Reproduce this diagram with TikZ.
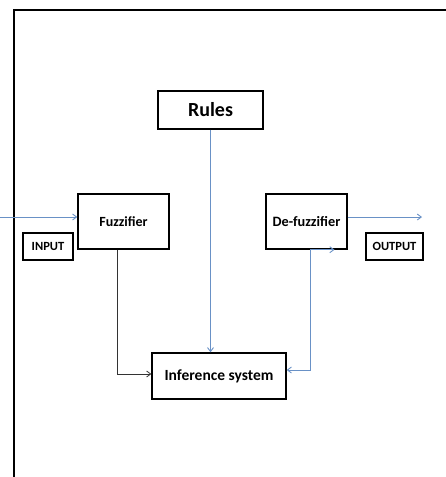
\documentclass[tikz,border=0pt]{standalone}
\usepackage{fontspec}
\setmainfont{Carlito}
\usetikzlibrary{arrows.meta,positioning}
\definecolor{linkblue}{RGB}{105,145,198}

\begin{document}
\begin{tikzpicture}[
  x=1pt, y=-1pt,
  font=\bfseries,
  box/.style={draw, line width=1.4pt, align=center, inner sep=0pt, fill=white},
  tag/.style={draw, line width=1.3pt, align=center, inner sep=0pt, font=\bfseries\fontsize{12.5}{14}\selectfont},
  arrow/.style={-{Straight Barb[length=4pt,width=6pt]}, line width=0.8pt, draw=black!80},
  flow/.style={-{Straight Barb[length=4pt,width=6pt]}, line width=0.9pt, draw=linkblue}
]
\useasboundingbox (0,0) rectangle (446,477);

% frame
\draw[line width=1.6pt] (14,477) -- (14,10) -- (446,10);

\node[box, minimum width=105pt, minimum height=38pt, font=\bfseries\fontsize{20}{22}\selectfont] (rules) at (210.5,110) {Rules};
\node[box, minimum width=91pt, minimum height=55pt, font=\bfseries\fontsize{14}{16}\selectfont] (fuzz) at (123.5,221.5) {Fuzzifier};
\node[box, minimum width=81pt, minimum height=55pt, font=\bfseries\fontsize{14.3}{16}\selectfont] (defuzz) at (306.5,221.5) {De-fuzzifier};
\node[box, minimum width=134pt, minimum height=46pt, font=\bfseries\fontsize{15.5}{17}\selectfont] (infer) at (219,376) {Inference system};

\node[tag, minimum width=50pt, minimum height=27pt] (input) at (48,246.5) {INPUT};
\node[tag, minimum width=57pt, minimum height=27pt] (output) at (394.5,246.5) {OUTPUT};

\coordinate (src) at (0,217);
\coordinate (sink) at (422,217);

\draw[flow] (src) -- (src -| fuzz.west);
\draw[flow] (defuzz.east |- sink) -- (sink);
\draw[flow] (rules.south) -- (rules.south |- infer.north);
\draw[arrow] ([xshift=-6.5pt]fuzz.south) |- ([yshift=2pt]infer.west);
\draw[flow, {Straight Barb[length=4pt,width=6pt]}-{Straight Barb[length=4pt,width=6pt]}]
  ([yshift=6pt]infer.east) -| ([xshift=3.5pt]defuzz.south) -- ([xshift=28pt]defuzz.south);

\end{tikzpicture}
\end{document}
